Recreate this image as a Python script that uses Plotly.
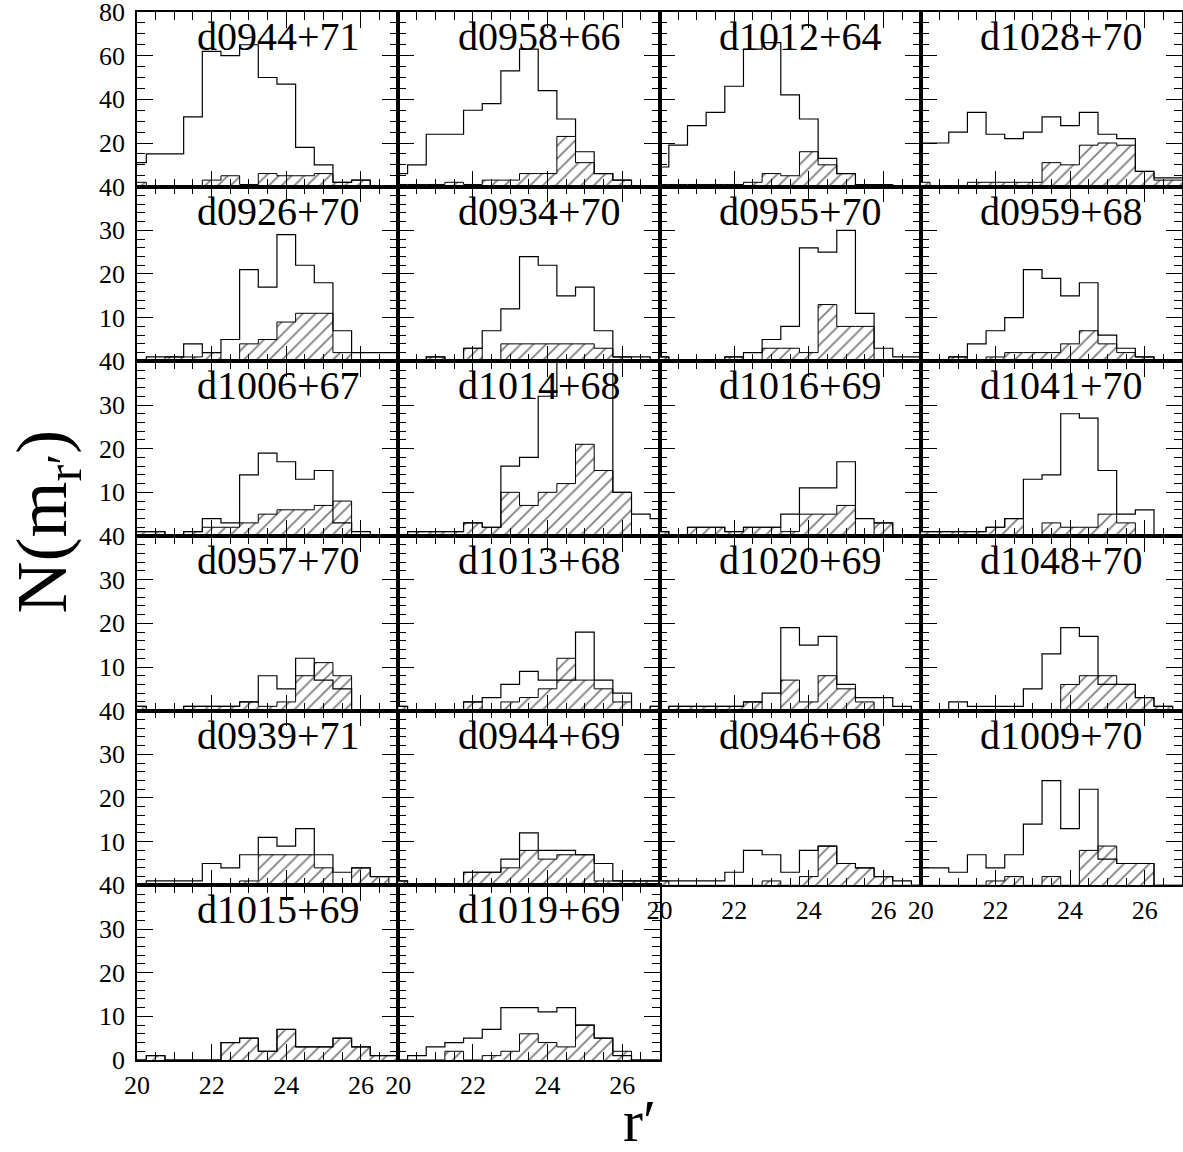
import plotly.graph_objects as go

# ---------------- data ----------------
BIN_CENTERS = [20.0, 20.5, 21.0, 21.5, 22.0, 22.5, 23.0, 23.5, 24.0, 24.5, 25.0, 25.5, 26.0, 26.5, 27.0]
BIN_WIDTH = 0.5

FIELD_NAMES = [
    "d0944+71", "d0958+66", "d1012+64", "d1028+70",
    "d0926+70", "d0934+70", "d0955+70", "d0959+68",
    "d1006+67", "d1014+68", "d1016+69", "d1041+70",
    "d0957+70", "d1013+68", "d1020+69", "d1048+70",
    "d0939+71", "d0944+69", "d0946+68", "d1009+70",
    "d1015+69", "d1019+69",
]

# open histograms (all objects) and hatched histograms (selected objects)
d0944p71_all = [11, 15, 15, 32, 62, 60, 65, 50, 47, 18, 10, 2, 3, 0, 0]
d0944p71_sel = [2, 0, 0, 0, 3, 5, 1, 6, 5, 5, 6, 2, 3, 0, 0]
d0958p66_all = [6, 10, 24, 24, 35, 38, 53, 63, 44, 31, 16, 6, 3, 0, 0]
d0958p66_sel = [1, 1, 1, 2, 1, 3, 3, 6, 6, 23, 11, 6, 3, 0, 0]
d1012p64_all = [9, 19, 28, 34, 46, 63, 66, 42, 31, 13, 6, 1, 1, 0, 0]
d1012p64_sel = [1, 1, 1, 1, 1, 2, 6, 5, 16, 10, 6, 0, 0, 0, 0]
d1028p70_all = [20, 20, 25, 34, 24, 22, 25, 32, 28, 34, 24, 22, 7, 4, 4]
d1028p70_sel = [2, 0, 0, 2, 2, 2, 2, 11, 10, 19, 20, 19, 7, 3, 3]

d0926p70_all = [0, 1, 1, 4, 2, 5, 21, 17, 29, 22, 18, 7, 2, 2, 2]
d0926p70_sel = [0, 0, 1, 1, 2, 0, 4, 5, 9, 11, 11, 2, 0, 0, 0]
d0934p70_all = [0, 0, 1, 0, 3, 7, 12, 24, 22, 15, 17, 7, 1, 1, 0]
d0934p70_sel = [0, 0, 1, 0, 3, 0, 4, 4, 4, 4, 4, 3, 1, 0, 0]
d0955p70_all = [1, 0, 0, 0, 1, 2, 5, 8, 26, 25, 30, 11, 3, 1, 1]
d0955p70_sel = [1, 0, 0, 0, 1, 0, 3, 3, 2, 13, 8, 8, 0, 0, 0]
d0959p68_all = [0, 0, 1, 4, 7, 10, 21, 19, 15, 18, 6, 3, 1, 0, 0]
d0959p68_sel = [0, 0, 1, 0, 1, 2, 2, 2, 4, 7, 4, 2, 1, 0, 0]

d1006p67_all = [1, 1, 0, 1, 4, 3, 14, 19, 17, 13, 15, 3, 1, 0, 0]
d1006p67_sel = [1, 1, 0, 1, 2, 2, 3, 5, 6, 6, 7, 8, 0, 0, 0]
d1014p68_all = [0, 1, 1, 1, 3, 2, 16, 18, 32, 44, 44, 44, 10, 5, 4]
d1014p68_sel = [0, 1, 1, 1, 3, 2, 10, 7, 10, 12, 21, 15, 10, 0, 0]
d1016p69_all = [1, 0, 2, 2, 1, 2, 2, 5, 11, 11, 17, 4, 3, 0, 0]
d1016p69_sel = [1, 0, 2, 2, 1, 2, 2, 1, 5, 5, 7, 0, 3, 0, 0]
d1041p70_all = [1, 1, 1, 1, 2, 4, 13, 14, 28, 27, 15, 5, 6, 0, 0]
d1041p70_sel = [1, 1, 1, 1, 2, 4, 0, 3, 2, 2, 5, 3, 0, 0, 0]

d0957p70_all = [1, 0, 0, 1, 1, 1, 2, 8, 5, 12, 7, 5, 0, 0, 0]
d0957p70_sel = [1, 0, 0, 1, 1, 1, 2, 1, 2, 8, 11, 8, 0, 0, 0]
d1013p68_all = [1, 0, 0, 0, 2, 3, 6, 9, 7, 7, 18, 7, 4, 0, 1]
d1013p68_sel = [1, 0, 0, 0, 2, 0, 2, 3, 5, 12, 7, 5, 2, 0, 1]
d1020p69_all = [0, 1, 1, 1, 1, 2, 4, 19, 15, 17, 6, 3, 3, 1, 0]
d1020p69_sel = [0, 1, 1, 1, 1, 2, 0, 7, 2, 8, 5, 2, 0, 0, 0]
d1048p70_all = [0, 0, 2, 1, 1, 1, 5, 13, 19, 17, 6, 6, 3, 1, 0]
d1048p70_sel = [0, 0, 0, 0, 0, 0, 0, 0, 6, 8, 8, 6, 3, 1, 0]

d0939p71_all = [0, 1, 1, 1, 5, 4, 7, 11, 9, 13, 7, 3, 4, 2, 2]
d0939p71_sel = [0, 0, 0, 0, 0, 0, 1, 7, 7, 7, 4, 0, 4, 2, 0]
d0944p69_all = [1, 0, 0, 0, 3, 3, 6, 12, 8, 8, 7, 5, 1, 1, 1]
d0944p69_sel = [1, 0, 0, 0, 3, 3, 4, 8, 6, 7, 7, 1, 1, 1, 1]
d0946p68_all = [1, 1, 1, 1, 3, 8, 7, 3, 8, 9, 5, 4, 2, 1, 0]
d0946p68_sel = [1, 0, 0, 0, 0, 0, 1, 0, 2, 9, 5, 4, 2, 0, 0]
d1009p70_all = [4, 4, 3, 7, 4, 7, 14, 24, 13, 22, 6, 5, 5, 0, 0]
d1009p70_sel = [0, 0, 0, 0, 1, 2, 0, 2, 0, 8, 9, 5, 5, 0, 0]

d1015p69_all = [0, 1, 0, 0, 0, 4, 5, 2, 7, 3, 3, 5, 3, 1, 1]
d1015p69_sel = [0, 1, 0, 0, 0, 4, 5, 2, 7, 3, 3, 5, 3, 1, 1]
d1019p69_all = [0, 1, 3, 4, 5, 7, 12, 12, 11, 12, 8, 5, 1, 0, 0]
d1019p69_sel = [0, 0, 0, 2, 0, 1, 2, 6, 4, 3, 8, 5, 2, 0, 0]

ALL_COUNTS = [
    d0944p71_all, d0958p66_all, d1012p64_all, d1028p70_all,
    d0926p70_all, d0934p70_all, d0955p70_all, d0959p68_all,
    d1006p67_all, d1014p68_all, d1016p69_all, d1041p70_all,
    d0957p70_all, d1013p68_all, d1020p69_all, d1048p70_all,
    d0939p71_all, d0944p69_all, d0946p68_all, d1009p70_all,
    d1015p69_all, d1019p69_all,
]
SEL_COUNTS = [
    d0944p71_sel, d0958p66_sel, d1012p64_sel, d1028p70_sel,
    d0926p70_sel, d0934p70_sel, d0955p70_sel, d0959p68_sel,
    d1006p67_sel, d1014p68_sel, d1016p69_sel, d1041p70_sel,
    d0957p70_sel, d1013p68_sel, d1020p69_sel, d1048p70_sel,
    d0939p71_sel, d0944p69_sel, d0946p68_sel, d1009p70_sel,
    d1015p69_sel, d1019p69_sel,
]

X_TICKS = [20, 22, 24, 26]
Y_TICKS_TOP = [20, 40, 60, 80]
Y_TICKS_MID = [10, 20, 30, 40]
Y_TICKS_BOTTOM = [0, 10, 20, 30, 40]

# ---------------- figure ----------------
NROWS, NCOLS = 6, 4
FONT = "Liberation Serif"


def step_xy(vals):
    edges = [c - BIN_WIDTH / 2 for c in BIN_CENTERS] + [BIN_CENTERS[-1] + BIN_WIDTH / 2]
    ys = list(vals) + [vals[-1]]
    return edges, ys


fig = go.Figure()
layout = {}
annotations = []

for i, name in enumerate(FIELD_NAMES):
    r, c = divmod(i, NCOLS)
    k = i + 1
    xs = "" if k == 1 else str(k)
    xname, yname = "x" + xs, "y" + xs

    ex, ey = step_xy(SEL_COUNTS[i])
    fig.add_trace(go.Scatter(
        x=ex, y=ey, xaxis=xname, yaxis=yname, mode="lines",
        line=dict(color="black", width=1, shape="hv"),
        fill="tozeroy", fillcolor="rgba(0,0,0,0)",
        fillpattern=dict(shape="/", fgcolor="black", bgcolor="white",
                         size=9, solidity=0.2),
        showlegend=False, hoverinfo="skip"))
    ax, ay = step_xy(ALL_COUNTS[i])
    fig.add_trace(go.Scatter(
        x=ax, y=ay, xaxis=xname, yaxis=yname, mode="lines",
        line=dict(color="black", width=1.2, shape="hv"),
        showlegend=False, hoverinfo="skip"))

    show_x = (r == NROWS - 1) or (r == NROWS - 2 and c >= 2)
    if r == 0:
        yr, yt, ymin = [0, 80], Y_TICKS_TOP, 5
    elif r == NROWS - 1:
        yr, yt, ymin = [0, 40], Y_TICKS_BOTTOM, 2
    else:
        yr, yt, ymin = [0, 40], Y_TICKS_MID, 2

    layout["xaxis" + xs] = dict(
        domain=[c / NCOLS, (c + 1) / NCOLS], anchor=yname,
        range=[20, 27], tickmode="array", tickvals=X_TICKS,
        ticks="inside", ticklen=16, tickwidth=1, tickcolor="black",
        minor=dict(ticks="inside", ticklen=8, tickwidth=1, tickcolor="black",
                   tickmode="linear", tick0=20, dtick=0.5),
        showline=True, linecolor="black", linewidth=1.6, mirror="allticks",
        showgrid=False, zeroline=False, showticklabels=show_x,
        tickfont=dict(family=FONT, size=26, color="black"),
        ticklabelstandoff=1, automargin=False, ticklabeloverflow="allow",
    )
    layout["yaxis" + xs] = dict(
        domain=[1 - (r + 1) / NROWS, 1 - r / NROWS], anchor=xname,
        range=yr, tickmode="array", tickvals=yt,
        ticks="inside", ticklen=16, tickwidth=1, tickcolor="black",
        minor=dict(ticks="inside", ticklen=8, tickwidth=1, tickcolor="black",
                   tickmode="linear", tick0=0, dtick=ymin),
        showline=True, linecolor="black", linewidth=1.6, mirror="allticks",
        showgrid=False, zeroline=False, showticklabels=(c == 0),
        tickfont=dict(family=FONT, size=26, color="black"),
        ticklabelstandoff=5, automargin=False, ticklabeloverflow="allow",
    )
    annotations.append(dict(
        text=name, xref=xname + " domain", yref=yname + " domain",
        x=0.54, y=0.86, xanchor="center", yanchor="middle", showarrow=False,
        font=dict(family=FONT, size=40, color="black")))

annotations.append(dict(
    text="N(m<sub>r′</sub>)", xref="paper", yref="paper",
    x=-0.086, y=0.514, xanchor="center", yanchor="middle", textangle=-90,
    showarrow=False, font=dict(family=FONT, size=72, color="black")))
annotations.append(dict(
    text="r′", xref="paper", yref="paper",
    x=0.481, y=-0.058, xanchor="center", yanchor="middle",
    showarrow=False, font=dict(family=FONT, size=60, color="black")))

fig.update_layout(
    width=1183, height=1152,
    margin=dict(l=137, r=1, t=12, b=92, autoexpand=False),
    paper_bgcolor="white", plot_bgcolor="white",
    annotations=annotations,
    **layout,
)

# remove the default 8 px page margin so the figure fills the window exactly
fig.write_html("out.html", config={"displayModeBar": False},
               post_script="document.body.style.margin='0px';")
